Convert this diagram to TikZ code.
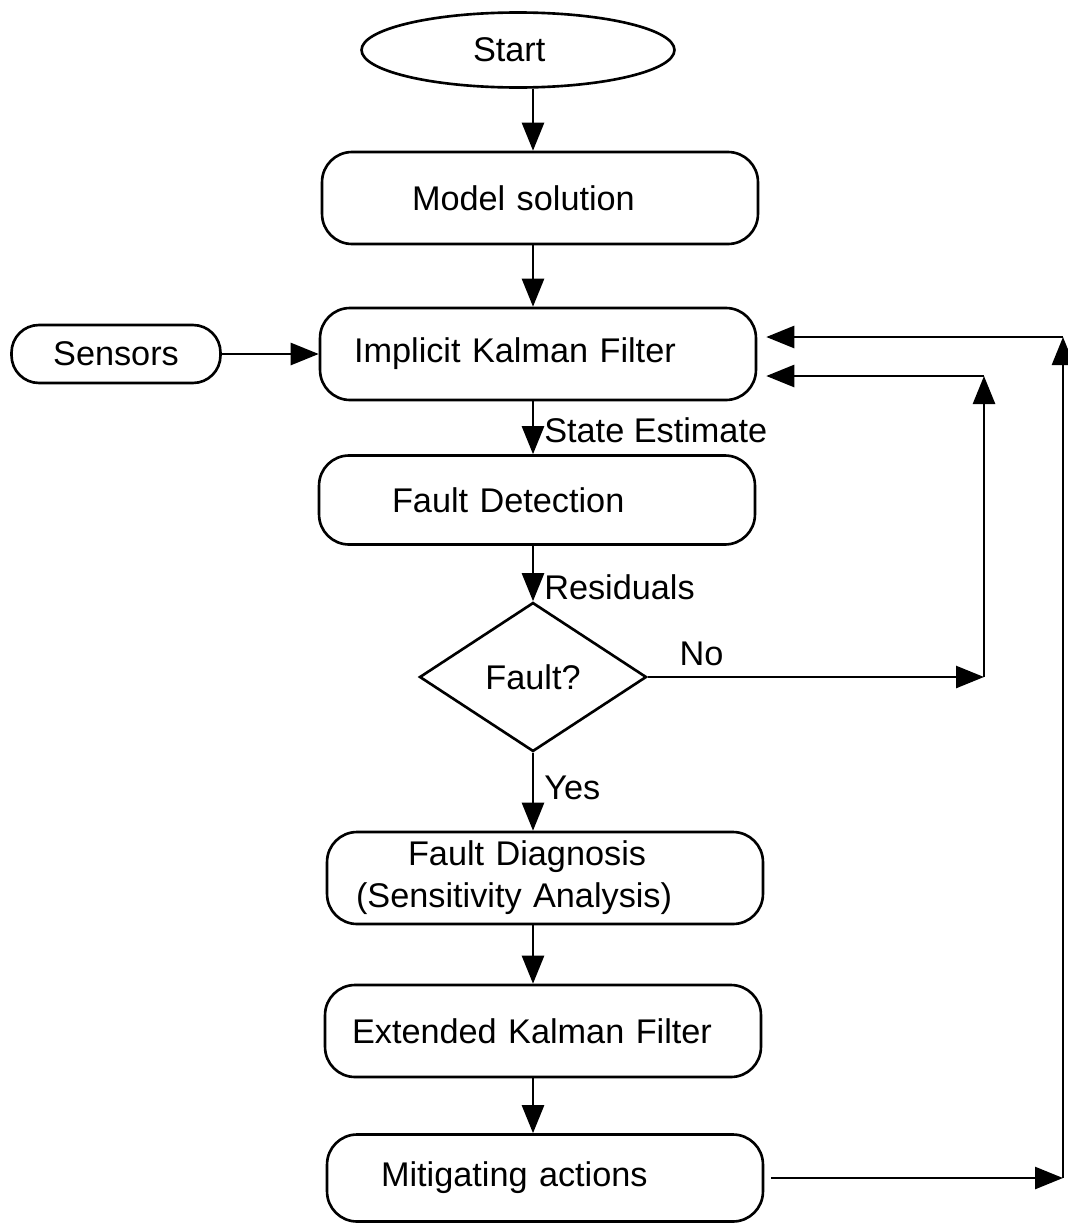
\documentclass[tikz,border=0pt]{standalone}
\usepackage{fontspec}
\setmainfont{Liberation Sans}
\usetikzlibrary{arrows.meta,shapes.geometric}

\begin{document}
\begin{tikzpicture}[
 x=0.02cm, y=-0.02cm,
 line width=1.5pt,
 >={Triangle[length=5.6mm,width=4.4mm]},
 font=\fontsize{19.5}{24}\selectfont,
 align=center,
 inner sep=1mm,
 stepbox/.style={draw=black,rectangle,rounded corners=6mm,minimum width=8.72cm,minimum height=1.84cm,align=left},
 startbox/.style={draw=black,ellipse,minimum width=6.26cm,minimum height=1.5cm,align=left},
 sensorbox/.style={draw=black,rectangle,rounded corners=5.5mm,minimum width=4.18cm,minimum height=1.16cm},
 decision/.style={draw=black,diamond,minimum width=4.54cm,minimum height=2.98cm,inner sep=0pt},
 lbl/.style={inner sep=2mm}
]
\useasboundingbox (0,0) rectangle (1068,1224);
\coordinate (axis) at (533,0);
\coordinate (nocorner) at (984,376);
\coordinate (back) at (1063,337);

\node (start) [startbox,text width=1.8cm] at (518,50) {Start};
\node (model) [stepbox,text width=5.12cm] at (540,198) {Model solution};
\node (ikf) [stepbox,text width=7.36cm] at (538,354) {Implicit Kalman Filter};
\node (sensors) [sensorbox] at (116,354) {Sensors};
\node (fd) [stepbox,text width=5.8cm,minimum height=1.78cm] at (537,500) {Fault Detection};
\node (fault) [decision] at (533,677) {Fault?};
\node (fdiag) [stepbox,text width=7.56cm] at (545,878) {\hspace*{1.04cm}Fault Diagnosis\\(Sensitivity Analysis)};
\node (ekf) [stepbox,text width=7.64cm] at (543,1031) {Extended Kalman Filter};
\node (ma) [stepbox,text width=6.56cm,minimum height=1.74cm] at (545,1178) {Mitigating actions};

% main column
\draw[->] (axis |- start.south) -- (axis |- model.north);
\draw[->] (axis |- model.south) -- (axis |- ikf.north);
\draw[->] (sensors) -- (sensors -| ikf.west);
\draw[->] (axis |- ikf.south) -- node [right,lbl,pos=0.55] {State Estimate} (axis |- fd.north);
\draw[->] (axis |- fd.south) -- node [right,lbl,pos=0.74] {Residuals} (fault.north);
\draw[->] (fault.south) -- node [right,lbl,pos=0.45] {Yes} (axis |- fdiag.north);
\draw[->] (axis |- fdiag.south) -- (axis |- ekf.north);
\draw[->] (axis |- ekf.south) -- (axis |- ma.north);

% feedback loops
\draw[->] (fault.east) -- node [above,lbl,pos=0.16] {No} (fault.east -| nocorner);
\draw[->] (fault.east -| nocorner) -- (nocorner);
\draw[->] (nocorner) -- ([xshift=1.8mm]ikf.east |- nocorner);
\draw[->] ([xshift=1.4mm]ma.east) -- (ma.east -| back);
\draw[->] (ma.east -| back) -- (back);
\draw[->] (back) -- ([xshift=1.8mm]ikf.east |- back);
\end{tikzpicture}
\end{document}
